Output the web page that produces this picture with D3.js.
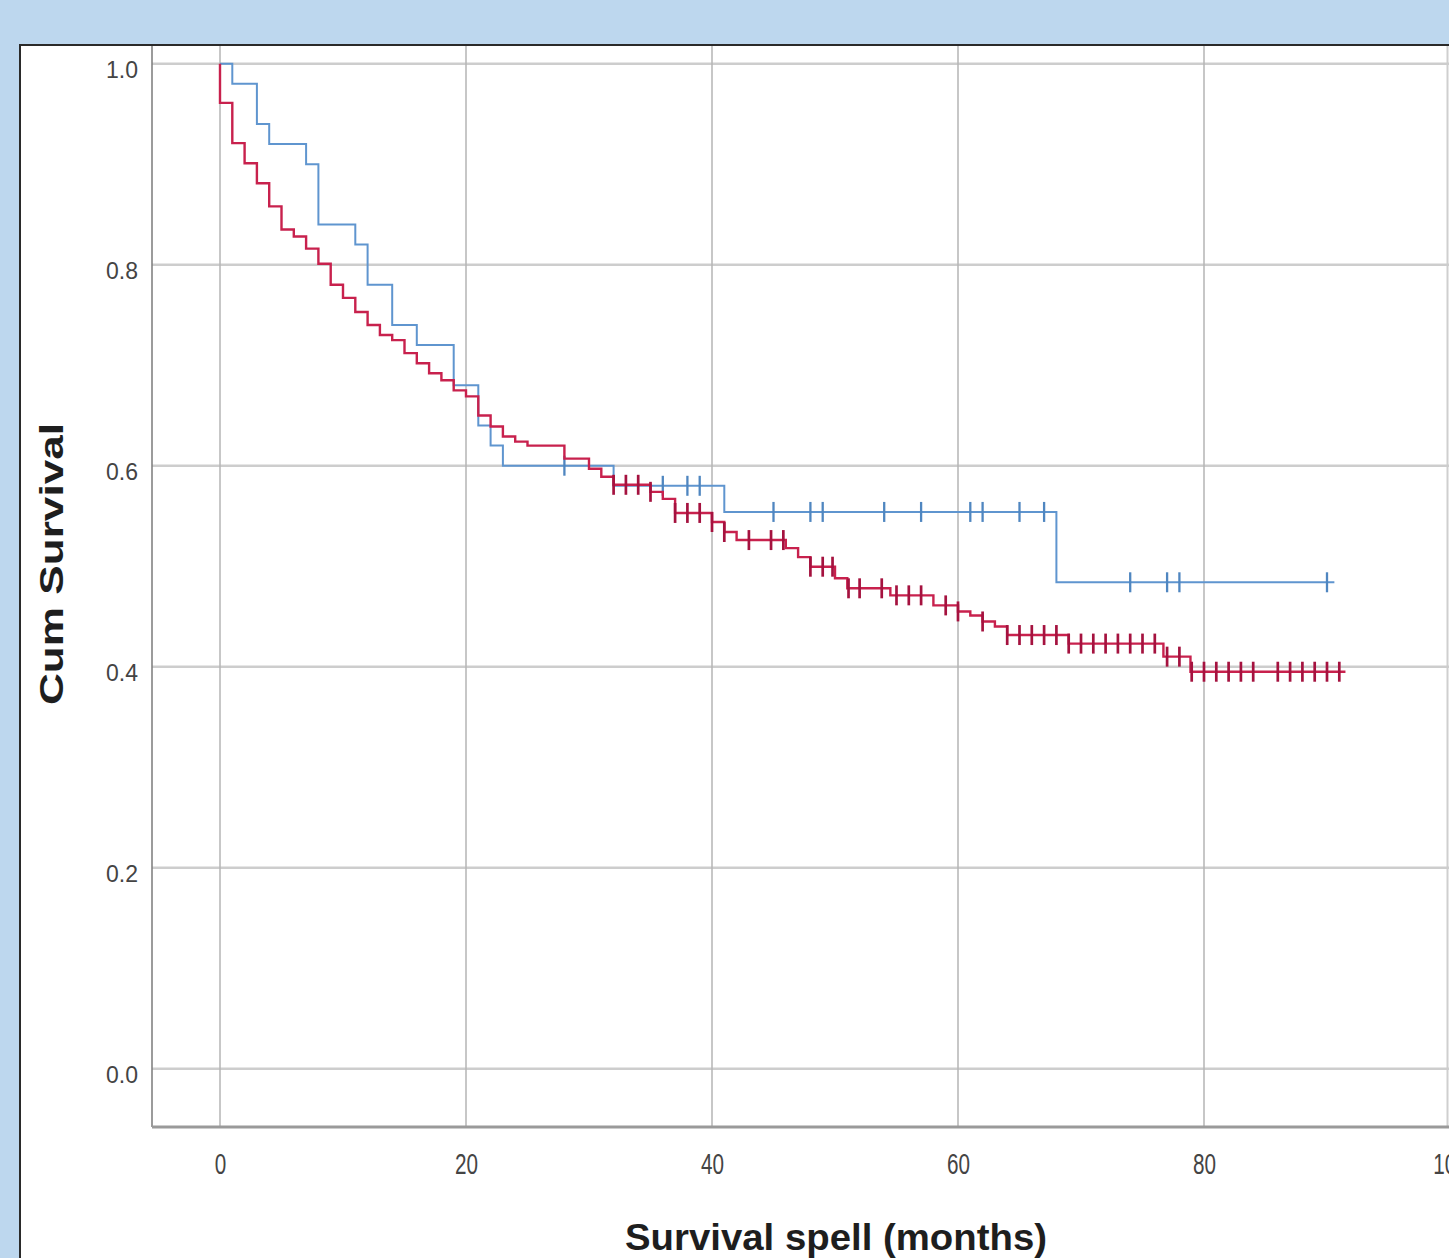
<!DOCTYPE html>
<html>
<head>
<meta charset="utf-8">
<script src="https://cdn.jsdelivr.net/npm/d3@7"></script>
<style>
  body { margin: 0; background: #bdd7ee; }
  svg { display: block; font-family: "Liberation Sans", Arial, sans-serif; }
</style>
</head>
<body>
<svg id="kmChart"></svg>
<script>
// values (months, cumulative survival)
const xTicks = [0, 20, 40, 60, 80, 100];
const yTicks = [0, 0.2, 0.4, 0.6, 0.8, 1.0];

// blue group: step times and survival after each step
const blueTimes = [0, 1, 3, 4, 7, 8, 11, 12, 14, 16, 19, 21, 22, 23, 32, 41, 68, 90.6];
const blueSurv  = [1, 0.98, 0.94, 0.92, 0.90, 0.84, 0.82, 0.78, 0.74, 0.72, 0.68, 0.64, 0.62, 0.60, 0.58, 0.554, 0.484, 0.484];
const blueCensored = [28, 36, 38, 39, 45, 48, 49, 54, 57, 61, 62, 65, 67, 74, 77, 78, 90];

// red group
const redTimes = [0, 0, 1, 2, 3, 4, 5, 6, 7, 8, 9, 10, 11, 12, 13, 14, 15, 16, 17, 18, 19, 20,
                  21, 22, 23, 24, 25, 28, 30, 31, 32, 35, 36, 37, 40, 41, 42, 46, 47, 48, 50, 51,
                  54.5, 58, 60, 61, 62, 63, 64, 69, 76.7, 78.9, 91.5];
const redSurv  = [1, 0.961, 0.921, 0.901, 0.881, 0.858, 0.835, 0.828, 0.816, 0.801, 0.780, 0.767,
                  0.753, 0.740, 0.730, 0.725, 0.712, 0.702, 0.692, 0.685, 0.675, 0.669,
                  0.650, 0.639, 0.629, 0.624, 0.620, 0.607, 0.597, 0.589, 0.581, 0.574, 0.567, 0.553,
                  0.544, 0.534, 0.526, 0.518, 0.509, 0.4995, 0.488, 0.478,
                  0.471, 0.461, 0.455, 0.451, 0.445, 0.440, 0.4315, 0.423, 0.410, 0.395, 0.395];
const redCensored = [32, 33, 34, 35, 37, 38, 39, 40, 41, 43, 44.8, 45.8, 48, 49, 49.8, 51.1, 52,
                     53.8, 55, 56, 57, 59, 60, 62, 64, 65, 66, 67, 68, 69, 70, 71, 72, 73, 74, 75,
                     76, 77, 78, 79, 80, 81, 82, 83, 84, 86, 87, 88, 89, 90, 91];

const width = 1449;
const height = 1258;
const panel = { left: 20, top: 45 };
const plot = { left: 152, bottom: 1127 };
const blueColor = '#5f95cf';
const redColor = '#c8214d';
let svg;

document.addEventListener('DOMContentLoaded', function () {
    svg = d3.select('#kmChart')
        .attr('width', width)
        .attr('height', height);
    drawKaplanMeier();
});

function drawKaplanMeier() {
    const xScale = d3.scaleLinear().domain([0, 100]).range([220, 1450]);
    const yScale = d3.scaleLinear().domain([0, 1]).range([1068.7, 63.7]);

    // white panel with dark top/left edge
    svg.append('rect')
        .attr('x', panel.left).attr('y', panel.top)
        .attr('width', width - panel.left).attr('height', height - panel.top)
        .attr('fill', '#ffffff');
    svg.append('line')
        .attr('x1', width - 1.5).attr('x2', width - 1.5)
        .attr('y1', panel.top).attr('y2', plot.bottom)
        .attr('stroke', '#cfcfcf').attr('stroke-width', 2);

    // grid
    svg.append('g').selectAll('line')
        .data(yTicks)
        .enter().append('line')
        .attr('x1', plot.left).attr('x2', width)
        .attr('y1', d => yScale(d)).attr('y2', d => yScale(d))
        .attr('stroke', '#cdcdcd').attr('stroke-width', 2.5);

    svg.append('g').selectAll('line')
        .data(xTicks)
        .enter().append('line')
        .attr('x1', d => xScale(d)).attr('x2', d => xScale(d))
        .attr('y1', panel.top).attr('y2', plot.bottom)
        .attr('stroke', '#b4b4b4').attr('stroke-width', 1.5);

    // axis frame
    svg.append('line')
        .attr('x1', plot.left).attr('x2', plot.left)
        .attr('y1', panel.top).attr('y2', plot.bottom)
        .attr('stroke', '#7a7a7a').attr('stroke-width', 1.5);
    svg.append('line')
        .attr('x1', plot.left).attr('x2', width)
        .attr('y1', plot.bottom).attr('y2', plot.bottom)
        .attr('stroke', '#9a9a9a').attr('stroke-width', 3);

    svg.append('path')
        .attr('d', `M${panel.left},${height} V${panel.top} H${width}`)
        .attr('fill', 'none').attr('stroke', '#2a2a2a').attr('stroke-width', 2);

    // tick labels
    const yAxis = svg.append('g')
        .attr('transform', 'translate(138,0)')
        .call(d3.axisLeft(yScale).tickValues(yTicks).tickFormat(d3.format('.1f')).tickSize(0).tickPadding(0));
    yAxis.select('.domain').remove();
    yAxis.selectAll('text')
        .attr('y', 6.5)
        .attr('fill', '#444')
        .style('font-size', '23px')
        .style('font-family', '"Liberation Sans", Arial, sans-serif');

    // the "100" label runs off the right edge, as in the source picture
    const xAxis = svg.append('g')
        .attr('transform', `translate(0,${plot.bottom})`)
        .call(d3.axisBottom(xScale).tickValues(xTicks).tickFormat(d3.format('d')).tickSize(0).tickPadding(26));
    xAxis.select('.domain').remove();
    xAxis.selectAll('text')
        .attr('fill', '#444')
        .attr('textLength', d => String(d).length * 11.5)
        .attr('lengthAdjust', 'spacingAndGlyphs')
        .style('font-size', '29px')
        .style('font-family', '"Liberation Sans", Arial, sans-serif');

    // axis titles
    svg.append('text')
        .attr('transform', 'rotate(-90)')
        .attr('x', -564)
        .attr('y', 63)
        .attr('text-anchor', 'middle')
        .attr('textLength', 282)
        .attr('lengthAdjust', 'spacingAndGlyphs')
        .attr('fill', '#1e1e1e')
        .style('font-size', '34px')
        .style('font-weight', 'bold')
        .text('Cum Survival');

    svg.append('text')
        .attr('x', 836)
        .attr('y', 1250)
        .attr('text-anchor', 'middle')
        .attr('textLength', 422)
        .attr('lengthAdjust', 'spacingAndGlyphs')
        .attr('fill', '#1e1e1e')
        .style('font-size', '37px')
        .style('font-weight', 'bold')
        .text('Survival spell (months)');

    // survival curves
    const stepLine = d3.line()
        .x(d => xScale(d[0]))
        .y(d => yScale(d[1]))
        .curve(d3.curveStepAfter);

    const groups = [
        { times: blueTimes, surv: blueSurv, censored: blueCensored, color: blueColor, tick: '#4f86c0', w: 2 },
        { times: redTimes, surv: redSurv, censored: redCensored, color: redColor, tick: '#a5123f', w: 2.4 }
    ];

    groups.forEach(g => {
        const pts = g.times.map((t, i) => [t, g.surv[i]]);
        svg.append('path')
            .datum(pts)
            .attr('d', stepLine)
            .attr('fill', 'none')
            .attr('stroke', g.color)
            .attr('stroke-width', g.w);

        const levelAt = t => g.surv[d3.bisectRight(g.times, t) - 1];
        svg.append('g').selectAll('line')
            .data(g.censored)
            .enter().append('line')
            .attr('x1', d => xScale(d)).attr('x2', d => xScale(d))
            .attr('y1', d => yScale(levelAt(d)) - 10)
            .attr('y2', d => yScale(levelAt(d)) + 10)
            .attr('stroke', g.tick)
            .attr('stroke-width', g.w + 0.3);
    });
}
</script>
</body>
</html>
